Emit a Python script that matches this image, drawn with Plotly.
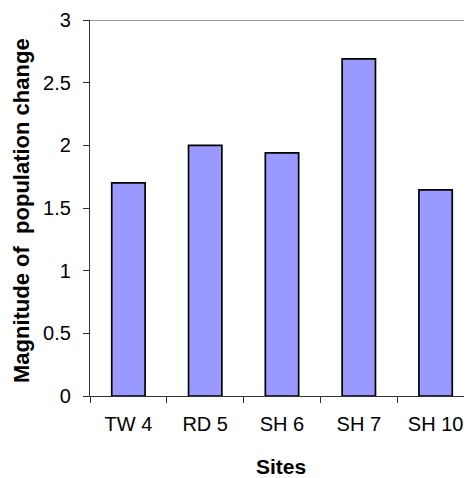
import plotly.graph_objects as go

sites = ["TW 4", "RD 5", "SH 6", "SH 7", "SH 10"]
magnitude = [1.70, 2.00, 1.94, 2.69, 1.645]
y_ticks = [0, 0.5, 1, 1.5, 2, 2.5, 3]
y_tick_text = ["0", "0.5", "1", "1.5", "2", "2.5", "3"]

FONT = "Arial, Liberation Sans, sans-serif"

fig = go.Figure()
fig.add_trace(go.Bar(
    x=sites,
    y=magnitude,
    marker=dict(color="#9999FF", line=dict(color="#000000", width=1.7)),
    hoverinfo="x+y",
))

# the page adds an 8px body margin, so the figure is 8px smaller and shifted
fig.update_layout(
    width=464, height=470,
    margin=dict(l=82, r=0, t=12, b=82),
    paper_bgcolor="white", plot_bgcolor="white",
    bargap=0.566,
    showlegend=False,
    font=dict(family=FONT, size=20, color="#000000"),
    xaxis=dict(
        type="category",
        range=[-0.5, 4.474],
        showline=True, linecolor="#333333", linewidth=1.3,
        ticks="outside", tickson="boundaries", ticklen=6, tickcolor="#333333", tickwidth=1,
        tickfont=dict(family=FONT, size=20, color="#000000"),
        ticklabelstandoff=10,
        showgrid=False, zeroline=False,
    ),
    yaxis=dict(
        range=[0, 3],
        tickvals=y_ticks, ticktext=y_tick_text,
        showline=True, linecolor="#333333", linewidth=1.3,
        ticks="outside", ticklen=6, tickcolor="#333333", tickwidth=1,
        tickfont=dict(family=FONT, size=20, color="#000000"),
        ticklabelstandoff=8,
        showgrid=False, zeroline=False,
    ),
    shapes=[dict(type="line", xref="paper", yref="y", x0=0, x1=1, y0=3, y1=3,
                 line=dict(color="#999999", width=2))],
    annotations=[
        dict(text="<b>Magnitude of \u00a0population change</b>", textangle=-90,
             xref="paper", yref="paper", x=0, y=0.492, xanchor="center", yanchor="middle",
             xshift=-69, showarrow=False, font=dict(family=FONT, size=22, color="#000000")),
        dict(text="<b>Sites</b>", xref="paper", yref="paper", x=(281 - 90) / 382, y=0,
             xanchor="center", yanchor="middle", yshift=-70, showarrow=False,
             font=dict(family=FONT, size=21, color="#000000")),
    ],
)

fig.write_html("out.html")
